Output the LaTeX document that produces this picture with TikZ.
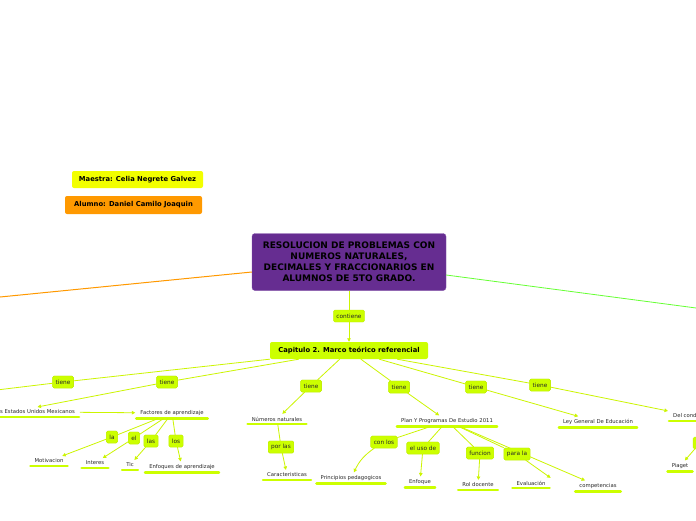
\documentclass[tikz,border=0pt]{standalone}
\usepackage{fontspec}
\setmainfont{DejaVu Sans}
\usetikzlibrary{arrows.meta}
\definecolor{limeC}{RGB}{204,255,0}
\definecolor{limeL}{RGB}{204,245,0}
\definecolor{limeD}{RGB}{190,235,0}
\definecolor{purpleC}{RGB}{102,45,145}
\definecolor{purpleD}{RGB}{130,80,170}
\definecolor{yellowC}{RGB}{242,255,0}
\definecolor{orangeC}{RGB}{255,153,0}
\definecolor{greenC}{RGB}{102,255,51}
\definecolor{txt}{RGB}{40,40,40}
\begin{document}
\begin{tikzpicture}[x=1pt,y=-1pt,
  lbl/.style={fill=limeC, draw=limeD, line width=0.3pt, rounded corners=1.5pt, font=\fontsize{5.8}{6}\selectfont, text=txt, inner xsep=3pt, inner ysep=0pt, minimum height=12pt},
  leaf/.style={font=\fontsize{5.3}{6}\selectfont, text=txt, inner xsep=5pt, inner ysep=2.8pt},
  ul/.style={draw=limeC, line width=2.6pt, line cap=round},
  con/.style={draw=limeL, line width=0.8pt},
  arr/.style={con, -{Triangle[length=3.5pt,width=3.5pt]}},
]
\useasboundingbox (0,0) rectangle (696,520);
\clip (0,0) rectangle (696,520);
\fill[white] (0,0) rectangle (696,520);

% header boxes
\node[fill=yellowC, rounded corners=2pt, minimum width=131pt, minimum height=17pt, inner sep=0pt,
  font=\bfseries\fontsize{6.8}{7}\selectfont, text=black] (maestra) at (137.5,179.5) {Maestra: Celia Negrete Galvez};
\node[fill=orangeC, rounded corners=2pt, minimum width=137pt, minimum height=18pt, inner sep=0pt,
  font=\bfseries\fontsize{6.8}{7}\selectfont, text=black] (alumno) at (133.5,205) {Alumno: Daniel Camilo Joaquin};

% main node
\node[fill=purpleC, draw=purpleD, line width=0.4pt, rounded corners=3pt, minimum width=194pt, minimum height=57pt,
  inner sep=0pt, align=center, font=\bfseries\fontsize{9}{11}\selectfont, text=black] (main) at (349,262)
  {RESOLUCION DE PROBLEMAS CON\\NUMEROS NATURALES,\\DECIMALES Y FRACCIONARIOS EN\\ALUMNOS DE 5TO GRADO.};

\coordinate (offO) at (-10,298);
\coordinate (offG) at (706,309.3);
\draw[orangeC, line width=1pt] (main.west |- 0,272) -- (offO);
\draw[greenC, line width=0.8pt] (main.east |- 0,275) -- (offG);

% chapter node
\node[lbl] (contiene) at (349,316) {contiene};
\node[fill=limeC, rounded corners=2pt, minimum width=158pt, minimum height=17pt, inner sep=0pt,
  font=\bfseries\fontsize{6.8}{7}\selectfont, text=black] (cap) at (349,350.5) {Capitulo 2. Marco teórico referencial};
\draw[con] (main) -- (contiene);
\draw[arr] (contiene) -- (cap);

% labels
\node[lbl] (t1) at (63,382) {tiene};
\node[lbl] (t2) at (167,382) {tiene};
\node[lbl] (t3) at (311,386) {tiene};
\node[lbl] (t4) at (399,387) {tiene};
\node[lbl] (t5) at (476,387) {tiene};
\node[lbl] (t6) at (540,385) {tiene};
\node[lbl] (la) at (112,437) {la};
\node[lbl] (el) at (134,438) {el};
\node[lbl] (las) at (151,441) {las};
\node[lbl] (los) at (176,441) {los};
\node[lbl] (porlas) at (281,447) {por las};
\node[lbl] (conlos) at (384,442) {con los};
\node[lbl] (elusode) at (423,448) {el uso de};
\node[lbl] (funcion) at (480,453) {funcion};
\node[lbl] (parala) at (517,454) {para la};
\node[lbl, minimum width=14pt] (rbox) at (700,443) {};

% leaves
\node[leaf, anchor=west] (const) at (-5,412) {s Estados Unidos Mexicanos};
\node[leaf] (factores) at (172,413) {Factores de aprendizaje};
\node[leaf] (mot) at (49,461) {Motivacion};
\node[leaf] (interes) at (95,463) {Interes};
\node[leaf] (tic) at (130,465) {Tic};
\node[leaf] (enfoques) at (182,467) {Enfoques de aprendizaje};
\node[leaf] (numeros) at (277,419) {Números naturales};
\node[leaf] (caract) at (287,475) {Caracteristicas};
\node[leaf] (plan) at (447,421) {Plan Y Programas De Estudio 2011};
\node[leaf] (princ) at (351,478) {Principios pedagogicos};
\node[leaf] (enfoque) at (420,482) {Enfoque};
\node[leaf] (rol) at (478,485) {Rol docente};
\node[leaf] (eval) at (531,483) {Evaluación};
\node[leaf] (comp) at (598,486) {competencias};
\node[leaf] (ley) at (598,422) {Ley General De Educación};
\node[leaf, anchor=west] (delcond) at (668,416) {Del cond};
\node[leaf] (piaget) at (680,466) {Piaget};
\coordinate (offL) at (-20,392);
\coordinate (delend) at (720,424);

\foreach \n in {const,factores,mot,interes,tic,enfoques,numeros,caract,plan,princ,enfoque,rol,eval,comp,ley,piaget}
  \draw[ul] ([xshift=1pt]\n.south west) -- ([xshift=-1pt]\n.south east);
\draw[ul] ([xshift=1pt]delcond.south west) -- (delend |- delcond.south);

% connectors
\draw[con] (cap) -- (t1); \draw[con] (t1) -- (offL);
\draw[con] (cap) -- (t2); \draw[arr] (t2) -- (const.north);
\draw[con] (cap) -- (t3); \draw[arr] (t3) -- (numeros);
\draw[con] (cap) -- (t4); \draw[arr] (t4) -- (plan);
\draw[con] (cap) -- (t5); \draw[arr] (t5) -- (ley);
\draw[con] (cap) -- (t6); \draw[arr] (t6) -- (delcond.north west);
\draw[arr] (const) -- (factores);
\draw[con] (factores) -- (la); \draw[arr] (la) -- (mot);
\draw[con] (factores) -- (el); \draw[arr] (el) -- (interes);
\draw[con] (factores) -- (las); \draw[arr] (las) -- (tic);
\draw[con] (factores) -- (los); \draw[arr] (los) -- (enfoques);
\draw[con] (numeros) -- (porlas); \draw[arr] (porlas) -- (caract);
\draw[con] (plan) -- (conlos); \draw[arr] (conlos) to[bend right=15] (princ);
\draw[con] (plan) -- (elusode); \draw[arr] (elusode) -- (enfoque);
\draw[con] (plan) -- (funcion); \draw[arr] (funcion) -- (rol);
\draw[arr] (plan) -- (comp);
\draw[con] (plan) -- (parala); \draw[arr] (parala) -- (eval.north east);
\draw[arr] (rbox) -- (piaget);

% redraw labels on top of lines
\foreach \n/\t in {t1/tiene,t2/tiene,t3/tiene,t4/tiene,t5/tiene,t6/tiene,la/la,el/el,las/las,los/los,porlas/por las,conlos/con los,elusode/el uso de,funcion/funcion,parala/para la}
  \node[lbl] at (\n) {\t};
\end{tikzpicture}
\end{document}
